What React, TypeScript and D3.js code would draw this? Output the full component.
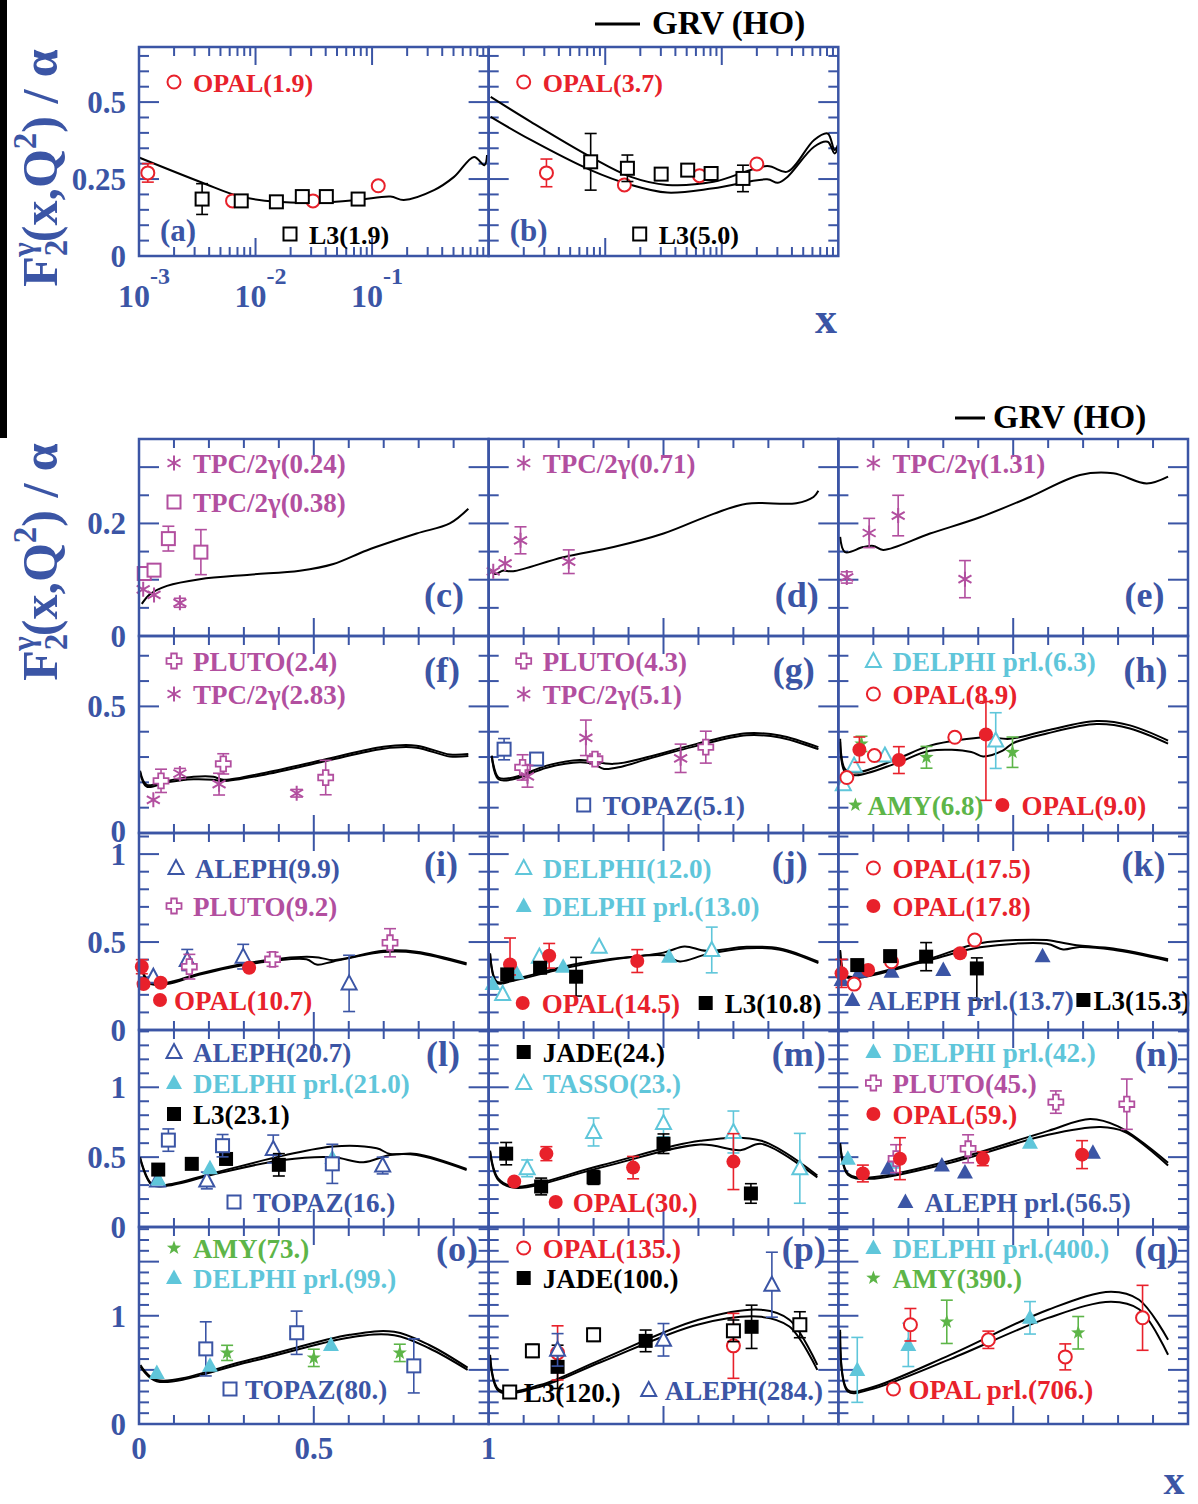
import React from "react";
import * as d3 from "d3";

const BLUE = "#3b55a5";
const RED = "#e8212b";
const MAG = "#b24f9f";
const CYAN = "#5fc6da";
const GREEN = "#5db548";
const BLACK = "#000000";
const FONT = "'Liberation Serif','Times New Roman',serif";

// ---------- data: [x, y, errUp?, errDown?] ----------
const a_OPAL = [[0.00119, 0.27, 0.03], [0.00635, 0.179], [0.0311, 0.179], [0.113, 0.228]];
const a_L3 = [[0.00348, 0.185, 0.05], [0.00754, 0.179], [0.0151, 0.176], [0.0252, 0.193], [0.0405, 0.193], [0.0759, 0.185]];
const a_GRV = [[0.001, 0.32], [0.0035, 0.238], [0.0074, 0.193], [0.0153, 0.176], [0.034, 0.173], [0.076, 0.182], [0.144, 0.193], [0.187, 0.182], [0.34, 0.214], [0.505, 0.257], [0.75, 0.322], [0.92, 0.295], [0.97, 0.328]];

const b_OPAL = [[0.00313, 0.27, 0.045], [0.0146, 0.231], [0.0645, 0.261], [0.2, 0.299]];
const b_L3 = [[0.0075, 0.306, 0.092], [0.0155, 0.285, 0.043], [0.0302, 0.266], [0.051, 0.279], [0.081, 0.268], [0.152, 0.252, 0.043]];
const b_GRV1 = [[0.00104, 0.517], [0.0023, 0.436], [0.0075, 0.322], [0.0166, 0.257], [0.034, 0.231], [0.085, 0.241], [0.245, 0.292], [0.366, 0.274], [0.62, 0.377], [0.81, 0.398], [0.93, 0.344], [0.99, 0.36]];
const b_GRV2 = [[0.00104, 0.452], [0.0023, 0.377], [0.0075, 0.279], [0.0166, 0.231], [0.034, 0.206], [0.085, 0.22], [0.245, 0.249], [0.303, 0.238], [0.366, 0.257], [0.62, 0.355], [0.81, 0.371], [0.93, 0.333], [0.99, 0.35]];

const c_TPC024 = [[0.012, 0.083], [0.043, 0.073], [0.117, 0.059, 0.008]];
const c_TPC038 = [[0.015, 0.111], [0.043, 0.117], [0.084, 0.173, 0.022], [0.177, 0.149, 0.04]];
const c_GRV = [[0.008, 0.057], [0.031, 0.074], [0.08, 0.089], [0.174, 0.101], [0.317, 0.109], [0.46, 0.116], [0.556, 0.128], [0.651, 0.152], [0.794, 0.182], [0.889, 0.2], [0.942, 0.226]];

const d_TPC071 = [[0.013, 0.115], [0.047, 0.129], [0.091, 0.17, 0.024], [0.229, 0.132, 0.021]];
const d_GRV = [[0.004, 0.119], [0.018, 0.11], [0.04, 0.116], [0.07, 0.115], [0.213, 0.14], [0.357, 0.158], [0.5, 0.182], [0.643, 0.217], [0.738, 0.235], [0.88, 0.236], [0.929, 0.247], [0.943, 0.258]];

const e_TPC131 = [[0.024, 0.104, 0.01], [0.088, 0.183, 0.026], [0.171, 0.214, 0.036], [0.362, 0.101, 0.033]];
const e_GRV = [[0.005, 0.176], [0.019, 0.149], [0.071, 0.158], [0.1, 0.16], [0.128, 0.153], [0.262, 0.182], [0.405, 0.211], [0.548, 0.247], [0.691, 0.286], [0.786, 0.289], [0.882, 0.271], [0.943, 0.283]];

const f_PLUTO24 = [[0.063, 0.206, 0.046], [0.241, 0.273, 0.04], [0.534, 0.219, 0.068]];
const f_TPC283 = [[0.041, 0.131], [0.117, 0.235, 0.02], [0.229, 0.193, 0.043], [0.451, 0.157, 0.015]];
const f_GRV1 = [[0.003, 0.246], [0.022, 0.19], [0.08, 0.206], [0.156, 0.222], [0.213, 0.222], [0.241, 0.21], [0.365, 0.239], [0.537, 0.292], [0.699, 0.341], [0.794, 0.345], [0.889, 0.31], [0.942, 0.312]];
const f_GRV2 = [[0.003, 0.24], [0.022, 0.183], [0.08, 0.2], [0.156, 0.212], [0.213, 0.21], [0.241, 0.205], [0.365, 0.232], [0.537, 0.285], [0.699, 0.333], [0.794, 0.337], [0.889, 0.302], [0.942, 0.304]];

const g_TOPAZ51 = [[0.044, 0.331, 0.042], [0.137, 0.292, 0.02]];
const g_PLUTO43 = [[0.097, 0.259, 0.05], [0.304, 0.292, 0.02], [0.621, 0.339, 0.063]];
const g_TPC51 = [[0.111, 0.224, 0.043], [0.278, 0.376, 0.07], [0.549, 0.295, 0.056]];
const g_GRV1 = [[0.009, 0.306], [0.028, 0.219], [0.07, 0.219], [0.166, 0.266], [0.261, 0.288], [0.357, 0.273], [0.452, 0.299], [0.595, 0.352], [0.738, 0.394], [0.833, 0.385], [0.943, 0.339]];
const g_GRV2 = [[0.009, 0.3], [0.028, 0.212], [0.07, 0.212], [0.166, 0.258], [0.261, 0.279], [0.3, 0.272], [0.33, 0.253], [0.38, 0.262], [0.452, 0.291], [0.595, 0.344], [0.738, 0.386], [0.833, 0.377], [0.943, 0.331]];

const h_DELPHI63 = [[0.014, 0.193], [0.045, 0.266], [0.133, 0.306], [0.45, 0.365, 0.11]];
const h_OPAL89 = [[0.024, 0.219], [0.103, 0.306], [0.333, 0.378]];
const h_OPAL90 = [[0.06, 0.329, 0.05], [0.173, 0.288, 0.053], [0.422, 0.389, 0.13, 0.26]];
const h_AMY68 = [[0.066, 0.352, 0.03], [0.252, 0.299, 0.043], [0.498, 0.319, 0.06]];
const h_GRV1 = [[0.005, 0.372], [0.019, 0.252], [0.052, 0.239], [0.167, 0.292], [0.262, 0.345], [0.424, 0.378], [0.49, 0.372], [0.596, 0.405], [0.739, 0.442], [0.834, 0.425], [0.943, 0.365]];
const h_GRV2 = [[0.005, 0.36], [0.019, 0.24], [0.052, 0.228], [0.167, 0.276], [0.262, 0.325], [0.38, 0.32], [0.414, 0.302], [0.47, 0.325], [0.5, 0.355], [0.596, 0.393], [0.739, 0.43], [0.834, 0.413], [0.943, 0.353]];

const i_ALEPH99 = [[0.041, 0.303], [0.138, 0.398, 0.06], [0.298, 0.417, 0.07], [0.601, 0.265, 0.16]];
const i_PLUTO92 = [[0.144, 0.36, 0.07], [0.382, 0.402, 0.04], [0.718, 0.496, 0.08]];
const i_OPAL107 = [[0.008, 0.36, 0.04], [0.013, 0.261], [0.062, 0.269], [0.315, 0.354]];
const i_GRV1 = [[0.003, 0.398], [0.027, 0.275], [0.08, 0.269], [0.174, 0.322], [0.317, 0.383], [0.479, 0.417], [0.52, 0.41], [0.556, 0.397], [0.699, 0.45], [0.794, 0.445], [0.937, 0.379]];
const i_GRV2 = [[0.003, 0.39], [0.027, 0.268], [0.08, 0.262], [0.174, 0.315], [0.317, 0.375], [0.479, 0.402], [0.508, 0.372], [0.556, 0.39], [0.699, 0.443], [0.794, 0.438], [0.937, 0.372]];

const j_DELPHI12 = [[0.04, 0.205], [0.145, 0.417], [0.316, 0.473], [0.638, 0.455, 0.13]];
const j_DELPHI13 = [[0.011, 0.261], [0.08, 0.322], [0.213, 0.36], [0.516, 0.417]];
const j_OPAL145 = [[0.061, 0.373, 0.15, 0.06], [0.173, 0.422, 0.07], [0.425, 0.392, 0.065]];
const j_L3108 = [[0.053, 0.316], [0.147, 0.354], [0.25, 0.303, 0.11]];
const j_GRV1 = [[0.004, 0.436], [0.023, 0.275], [0.07, 0.288], [0.261, 0.379], [0.5, 0.44], [0.56, 0.475], [0.623, 0.45], [0.738, 0.473], [0.833, 0.464], [0.943, 0.388]];
const j_GRV2 = [[0.004, 0.43], [0.023, 0.268], [0.07, 0.28], [0.261, 0.37], [0.5, 0.425], [0.547, 0.39], [0.623, 0.43], [0.738, 0.465], [0.833, 0.456], [0.943, 0.38]];

const k_OPAL175 = [[0.045, 0.261], [0.152, 0.388], [0.39, 0.511]];
const k_OPAL178 = [[0.009, 0.322, 0.08], [0.085, 0.341], [0.348, 0.436]];
const k_ALEPH137 = [[0.009, 0.284], [0.06, 0.331], [0.152, 0.331], [0.3, 0.341], [0.584, 0.42]];
const k_L3153 = [[0.054, 0.369], [0.148, 0.42], [0.251, 0.417, 0.08], [0.396, 0.35, 0.06, 0.18]];
const k_GRV1 = [[0.005, 0.455], [0.019, 0.313], [0.052, 0.303], [0.262, 0.407], [0.405, 0.493], [0.596, 0.511], [0.63, 0.5], [0.69, 0.48], [0.786, 0.464], [0.943, 0.402]];
const k_GRV2 = [[0.005, 0.448], [0.019, 0.305], [0.052, 0.295], [0.262, 0.398], [0.405, 0.47], [0.596, 0.49], [0.643, 0.458], [0.69, 0.472], [0.786, 0.456], [0.943, 0.394]];

const l_ALEPH207 = [[0.053, 0.333], [0.194, 0.333, 0.06], [0.384, 0.558, 0.1], [0.697, 0.44, 0.06]];
const l_DELPHI21 = [[0.055, 0.34], [0.203, 0.421], [0.553, 0.494]];
const l_L3231 = [[0.055, 0.411], [0.151, 0.452], [0.249, 0.487], [0.4, 0.445, 0.08]];
const l_TOPAZ16 = [[0.084, 0.622, 0.08], [0.239, 0.582, 0.08], [0.553, 0.452, 0.14]];
const l_GRV1 = [[0.003, 0.499], [0.036, 0.31], [0.08, 0.303], [0.223, 0.392], [0.413, 0.511], [0.556, 0.577], [0.68, 0.563], [0.718, 0.523], [0.794, 0.523], [0.937, 0.416]];
const l_GRV2 = [[0.003, 0.49], [0.036, 0.302], [0.08, 0.295], [0.223, 0.382], [0.413, 0.48], [0.556, 0.499], [0.642, 0.463], [0.718, 0.515], [0.794, 0.515], [0.937, 0.408]];

const m_JADE24 = [[0.05, 0.525, 0.08], [0.15, 0.29, 0.06], [0.3, 0.355, 0.05], [0.5, 0.596, 0.07], [0.75, 0.24, 0.07]];
const m_TASSO23 = [[0.11, 0.42, 0.06], [0.3, 0.68, 0.1], [0.5, 0.745, 0.1], [0.7, 0.68, 0.15], [0.89, 0.42, 0.25]];
const m_OPAL30 = [[0.073, 0.326], [0.165, 0.525, 0.05], [0.413, 0.425, 0.08], [0.7, 0.468, 0.2]];
const m_GRV1 = [[0.004, 0.546], [0.027, 0.348], [0.075, 0.29], [0.32, 0.44], [0.605, 0.617], [0.78, 0.617], [0.94, 0.369]];
const m_GRV2 = [[0.004, 0.535], [0.027, 0.338], [0.075, 0.28], [0.32, 0.425], [0.605, 0.59], [0.72, 0.55], [0.78, 0.595], [0.94, 0.355]];

const n_DELPHI42 = [[0.027, 0.489], [0.156, 0.46], [0.548, 0.603]];
const n_ALEPH565 = [[0.142, 0.418], [0.296, 0.44], [0.362, 0.39], [0.728, 0.532]];
const n_PLUTO45 = [[0.165, 0.489, 0.1], [0.371, 0.56, 0.1], [0.622, 0.894, 0.08], [0.825, 0.879, 0.18]];
const n_OPAL59 = [[0.07, 0.383, 0.06], [0.176, 0.489, 0.15], [0.413, 0.489, 0.05], [0.697, 0.518, 0.1]];
const n_GRV1 = [[0.005, 0.6], [0.027, 0.383], [0.09, 0.355], [0.32, 0.475], [0.6, 0.688], [0.72, 0.773], [0.8, 0.72], [0.943, 0.46]];
const n_GRV2 = [[0.005, 0.59], [0.027, 0.373], [0.09, 0.345], [0.32, 0.46], [0.6, 0.66], [0.75, 0.715], [0.82, 0.68], [0.943, 0.44]];

const o_AMY73 = [[0.252, 0.657, 0.07], [0.5, 0.611, 0.08], [0.746, 0.657, 0.08]];
const o_DELPHI99 = [[0.051, 0.472], [0.203, 0.537], [0.549, 0.731]];
const o_TOPAZ80 = [[0.191, 0.694, 0.25], [0.451, 0.843, 0.2], [0.786, 0.537, 0.25]];
const o_GRV1 = [[0.004, 0.546], [0.05, 0.407], [0.317, 0.593], [0.603, 0.824], [0.73, 0.852], [0.83, 0.73], [0.94, 0.52]];
const o_GRV2 = [[0.004, 0.53], [0.05, 0.395], [0.317, 0.575], [0.603, 0.8], [0.73, 0.82], [0.83, 0.7], [0.94, 0.5]];

const p_OPAL135 = [[0.197, 0.657, 0.25], [0.7, 0.722, 0.3]];
const p_JADE100 = [[0.197, 0.528, 0.2], [0.449, 0.768, 0.1], [0.752, 0.898, 0.2]];
const p_L3120 = [[0.125, 0.676, 0.06], [0.3, 0.824, 0.06], [0.7, 0.861, 0.1], [0.89, 0.917, 0.12]];
const p_ALEPH284 = [[0.197, 0.685, 0.15], [0.5, 0.778, 0.15], [0.81, 1.287, 0.3]];
const p_GRV1 = [[0.004, 0.64], [0.03, 0.315], [0.147, 0.36], [0.32, 0.593], [0.6, 0.963], [0.78, 1.056], [0.86, 0.963], [0.94, 0.546]];
const p_GRV2 = [[0.004, 0.62], [0.03, 0.3], [0.147, 0.345], [0.32, 0.57], [0.6, 0.92], [0.78, 0.99], [0.86, 0.9], [0.94, 0.5]];

const q_DELPHI400 = [[0.054, 0.5, 0.3], [0.2, 0.731, 0.2], [0.548, 0.981, 0.15]];
const q_AMY390 = [[0.31, 0.944, 0.2], [0.686, 0.843, 0.15]];
const q_OPAL706 = [[0.206, 0.917, 0.15], [0.429, 0.778, 0.08], [0.649, 0.62, 0.12], [0.87, 0.981, 0.3]];
const q_GRV1 = [[0.005, 0.87], [0.027, 0.315], [0.09, 0.333], [0.32, 0.639], [0.6, 1.056], [0.78, 1.222], [0.86, 1.148], [0.943, 0.778]];
const q_GRV2 = [[0.005, 0.85], [0.027, 0.3], [0.09, 0.318], [0.32, 0.6], [0.6, 0.98], [0.78, 1.13], [0.86, 1.06], [0.943, 0.64]];

// tick labels
const topYTickLabels = [0, 0.25, 0.5];
const topXDecades = [-3, -2, -1];
const rowYTickLabels = [[0, 0.2], [0, 0.5], [0, 0.5, 1], [0, 0.5, 1], [0, 1]];
const bottomXTickLabels = [0, 0.5, 1];

// ---------- layout ----------
const COLX = [139, 488.7, 838.4];
const PW = 349.6;
const TOP_Y0 = 47, TOP_Y1 = 256, TOP_YMAX = 0.679;
const ROWY = [439, 636, 833, 1030, 1227, 1424];
const ROW_YMAX = [0.35, 0.778, 1.12, 1.41, 1.82];
const ROW_MINOR = [0.05, 0.1, 0.1, 0.1, 0.1];
const ROW_MAJOR = [0.1, 0.5, 0.5, 0.5, 0.5];

type Ser = { d: number[][]; m: string; c: string };
type Leg = { m: string; c: string; t: string; dx: number; dy: number; tx?: number };
type Panel = { col: number; row: number; log?: boolean; lab: string; ser: Ser[]; cur: number[][][]; leg: Leg[] };

const L1 = 24, L2 = 63;
const panels: Panel[] = [
  { col: 0, row: -1, log: true, lab: "(a)", ser: [{ d: a_OPAL, m: "oc", c: RED }, { d: a_L3, m: "os", c: BLACK }], cur: [a_GRV],
    leg: [{ m: "oc", c: RED, t: "OPAL(1.9)", dx: 35, dy: 35 }, { m: "os", c: BLACK, t: "L3(1.9)", dx: 151, dy: 187 }] },
  { col: 1, row: -1, log: true, lab: "(b)", ser: [{ d: b_OPAL, m: "oc", c: RED }, { d: b_L3, m: "os", c: BLACK }], cur: [b_GRV1, b_GRV2],
    leg: [{ m: "oc", c: RED, t: "OPAL(3.7)", dx: 35, dy: 35 }, { m: "os", c: BLACK, t: "L3(5.0)", dx: 151, dy: 187 }] },
  { col: 0, row: 0, lab: "(c)", ser: [{ d: c_TPC024, m: "ast", c: MAG }, { d: c_TPC038, m: "os", c: MAG }], cur: [c_GRV],
    leg: [{ m: "ast", c: MAG, t: "TPC/2γ(0.24)", dx: 35, dy: L1 }, { m: "os", c: MAG, t: "TPC/2γ(0.38)", dx: 35, dy: L2 }] },
  { col: 1, row: 0, lab: "(d)", ser: [{ d: d_TPC071, m: "ast", c: MAG }], cur: [d_GRV],
    leg: [{ m: "ast", c: MAG, t: "TPC/2γ(0.71)", dx: 35, dy: L1 }] },
  { col: 2, row: 0, lab: "(e)", ser: [{ d: e_TPC131, m: "ast", c: MAG }], cur: [e_GRV],
    leg: [{ m: "ast", c: MAG, t: "TPC/2γ(1.31)", dx: 35, dy: L1 }] },
  { col: 0, row: 1, lab: "(f)", ser: [{ d: f_PLUTO24, m: "ocr", c: MAG }, { d: f_TPC283, m: "ast", c: MAG }], cur: [f_GRV1, f_GRV2],
    leg: [{ m: "ocr", c: MAG, t: "PLUTO(2.4)", dx: 35, dy: 25 }, { m: "ast", c: MAG, t: "TPC/2γ(2.83)", dx: 35, dy: 58 }] },
  { col: 1, row: 1, lab: "(g)", ser: [{ d: g_TOPAZ51, m: "os", c: BLUE }, { d: g_PLUTO43, m: "ocr", c: MAG }, { d: g_TPC51, m: "ast", c: MAG }], cur: [g_GRV1, g_GRV2],
    leg: [{ m: "ocr", c: MAG, t: "PLUTO(4.3)", dx: 35, dy: 25 }, { m: "ast", c: MAG, t: "TPC/2γ(5.1)", dx: 35, dy: 58 }, { m: "os", c: BLUE, t: "TOPAZ(5.1)", dx: 95, dy: 169 }] },
  { col: 2, row: 1, lab: "(h)", ser: [{ d: h_DELPHI63, m: "ot", c: CYAN }, { d: h_AMY68, m: "star", c: GREEN }, { d: h_OPAL89, m: "oc", c: RED }, { d: h_OPAL90, m: "fc", c: RED }], cur: [h_GRV1, h_GRV2],
    leg: [{ m: "ot", c: CYAN, t: "DELPHI prl.(6.3)", dx: 35, dy: 25 }, { m: "oc", c: RED, t: "OPAL(8.9)", dx: 35, dy: 58 },
      { m: "star", c: GREEN, t: "AMY(6.8)", dx: 17, dy: 169, tx: 12 }, { m: "fc", c: RED, t: "OPAL(9.0)", dx: 164, dy: 169 }] },
  { col: 0, row: 2, lab: "(i)", ser: [{ d: i_ALEPH99, m: "ot", c: BLUE }, { d: i_PLUTO92, m: "ocr", c: MAG }, { d: i_OPAL107, m: "fc", c: RED }], cur: [i_GRV1, i_GRV2],
    leg: [{ m: "ot", c: BLUE, t: "ALEPH(9.9)", dx: 37, dy: 35 }, { m: "ocr", c: MAG, t: "PLUTO(9.2)", dx: 35, dy: 73 }, { m: "fc", c: RED, t: "OPAL(10.7)", dx: 21, dy: 167, tx: 14 }] },
  { col: 1, row: 2, lab: "(j)", ser: [{ d: j_DELPHI12, m: "ot", c: CYAN }, { d: j_DELPHI13, m: "ft", c: CYAN }, { d: j_OPAL145, m: "fc", c: RED }, { d: j_L3108, m: "fs", c: BLACK }], cur: [j_GRV1, j_GRV2],
    leg: [{ m: "ot", c: CYAN, t: "DELPHI(12.0)", dx: 35, dy: 35 }, { m: "ft", c: CYAN, t: "DELPHI prl.(13.0)", dx: 35, dy: 73 },
      { m: "fc", c: RED, t: "OPAL(14.5)", dx: 34, dy: 170 }, { m: "fs", c: BLACK, t: "L3(10.8)", dx: 217, dy: 170 }] },
  { col: 2, row: 2, lab: "(k)", ser: [{ d: k_ALEPH137, m: "ft", c: BLUE }, { d: k_OPAL175, m: "oc", c: RED }, { d: k_OPAL178, m: "fc", c: RED }, { d: k_L3153, m: "fs", c: BLACK }], cur: [k_GRV1, k_GRV2],
    leg: [{ m: "oc", c: RED, t: "OPAL(17.5)", dx: 35, dy: 35 }, { m: "fc", c: RED, t: "OPAL(17.8)", dx: 35, dy: 73 },
      { m: "ft", c: BLUE, t: "ALEPH prl.(13.7)", dx: 14, dy: 167, tx: 15 }, { m: "fs", c: BLACK, t: "L3(15.3)", dx: 245, dy: 167, tx: 10 }] },
  { col: 0, row: 3, lab: "(l)", ser: [{ d: l_ALEPH207, m: "ot", c: BLUE }, { d: l_DELPHI21, m: "ft", c: CYAN }, { d: l_L3231, m: "fs", c: BLACK }, { d: l_TOPAZ16, m: "os", c: BLUE }], cur: [l_GRV1, l_GRV2],
    leg: [{ m: "ot", c: BLUE, t: "ALEPH(20.7)", dx: 35, dy: 22 }, { m: "ft", c: CYAN, t: "DELPHI prl.(21.0)", dx: 35, dy: 53 }, { m: "fs", c: BLACK, t: "L3(23.1)", dx: 35, dy: 84 },
      { m: "os", c: BLUE, t: "TOPAZ(16.)", dx: 95, dy: 172 }] },
  { col: 1, row: 3, lab: "(m)", ser: [{ d: m_TASSO23, m: "ot", c: CYAN }, { d: m_JADE24, m: "fs", c: BLACK }, { d: m_OPAL30, m: "fc", c: RED }], cur: [m_GRV1, m_GRV2],
    leg: [{ m: "fs", c: BLACK, t: "JADE(24.)", dx: 35, dy: 22 }, { m: "ot", c: CYAN, t: "TASSO(23.)", dx: 35, dy: 53 }, { m: "fc", c: RED, t: "OPAL(30.)", dx: 67, dy: 172, tx: 17 }] },
  { col: 2, row: 3, lab: "(n)", ser: [{ d: n_DELPHI42, m: "ft", c: CYAN }, { d: n_ALEPH565, m: "ft", c: BLUE }, { d: n_PLUTO45, m: "ocr", c: MAG }, { d: n_OPAL59, m: "fc", c: RED }], cur: [n_GRV1, n_GRV2],
    leg: [{ m: "ft", c: CYAN, t: "DELPHI prl.(42.)", dx: 35, dy: 22 }, { m: "ocr", c: MAG, t: "PLUTO(45.)", dx: 35, dy: 53 }, { m: "fc", c: RED, t: "OPAL(59.)", dx: 35, dy: 84 },
      { m: "ft", c: BLUE, t: "ALEPH prl.(56.5)", dx: 67, dy: 172 }] },
  { col: 0, row: 4, lab: "(o)", ser: [{ d: o_TOPAZ80, m: "os", c: BLUE }, { d: o_DELPHI99, m: "ft", c: CYAN }, { d: o_AMY73, m: "star", c: GREEN }], cur: [o_GRV1, o_GRV2],
    leg: [{ m: "star", c: GREEN, t: "AMY(73.)", dx: 35, dy: 21 }, { m: "ft", c: CYAN, t: "DELPHI prl.(99.)", dx: 35, dy: 51 }, { m: "os", c: BLUE, t: "TOPAZ(80.)", dx: 91, dy: 162, tx: 15 }] },
  { col: 1, row: 4, lab: "(p)", ser: [{ d: p_OPAL135, m: "oc", c: RED }, { d: p_JADE100, m: "fs", c: BLACK }, { d: p_L3120, m: "os", c: BLACK }, { d: p_ALEPH284, m: "ot", c: BLUE }], cur: [p_GRV1, p_GRV2],
    leg: [{ m: "oc", c: RED, t: "OPAL(135.)", dx: 35, dy: 21 }, { m: "fs", c: BLACK, t: "JADE(100.)", dx: 35, dy: 51 },
      { m: "os", c: BLACK, t: "L3(120.)", dx: 21, dy: 165, tx: 14 }, { m: "ot", c: BLUE, t: "ALEPH(284.)", dx: 160, dy: 163, tx: 16 }] },
  { col: 2, row: 4, lab: "(q)", ser: [{ d: q_DELPHI400, m: "ft", c: CYAN }, { d: q_AMY390, m: "star", c: GREEN }, { d: q_OPAL706, m: "oc", c: RED }], cur: [q_GRV1, q_GRV2],
    leg: [{ m: "ft", c: CYAN, t: "DELPHI prl.(400.)", dx: 35, dy: 21 }, { m: "star", c: GREEN, t: "AMY(390.)", dx: 35, dy: 51 }, { m: "oc", c: RED, t: "OPAL prl.(706.)", dx: 55, dy: 162, tx: 15 }] },
];

const LAB_POS: Record<string, [number, number]> = {
  "(c)": [325, 168], "(d)": [330, 168], "(e)": [326, 168],
  "(f)": [321, 46], "(g)": [326, 46], "(h)": [329, 46],
  "(i)": [319, 43], "(j)": [319, 43], "(k)": [327, 43],
  "(l)": [321, 36], "(m)": [337, 36], "(n)": [340, 36],
  "(o)": [339, 34], "(p)": [337, 34], "(q)": [340, 34],
};

function Marker({ m, x, y, c }: { m: string; x: number; y: number; c: string }) {
  const sw = 2;
  switch (m) {
    case "oc": return <circle cx={x} cy={y} r={6.5} fill="white" stroke={c} strokeWidth={sw} />;
    case "fc": return <circle cx={x} cy={y} r={7} fill={c} />;
    case "os": return <rect x={x - 6.5} y={y - 6.5} width={13} height={13} fill="white" stroke={c} strokeWidth={sw} />;
    case "fs": return <rect x={x - 7} y={y - 7} width={14} height={14} fill={c} />;
    case "ot": return <path d={`M${x},${y - 8}L${x + 7.5},${y + 6}L${x - 7.5},${y + 6}Z`} fill="white" stroke={c} strokeWidth={sw} />;
    case "ft": return <path d={`M${x},${y - 8.5}L${x + 8},${y + 6}L${x - 8},${y + 6}Z`} fill={c} />;
    case "ast": {
      const r = 7.5, a = r * 0.866, b = r * 0.5;
      return <path d={`M${x},${y - r}L${x},${y + r}M${x - a},${y - b}L${x + a},${y + b}M${x - a},${y + b}L${x + a},${y - b}`} stroke={c} strokeWidth={2} fill="none" />;
    }
    case "ocr": {
      const h = 7.5, w = 2.8;
      return <path d={`M${x - w},${y - h}H${x + w}V${y - w}H${x + h}V${y + w}H${x + w}V${y + h}H${x - w}V${y + w}H${x - h}V${y - w}H${x - w}Z`} fill="white" stroke={c} strokeWidth={1.8} />;
    }
    case "star": {
      const pts: string[] = [];
      for (let k = 0; k < 10; k++) {
        const rr = k % 2 === 0 ? 7.5 : 3;
        const ang = -Math.PI / 2 + (k * Math.PI) / 5;
        pts.push(`${x + rr * Math.cos(ang)},${y + rr * Math.sin(ang)}`);
      }
      return <polygon points={pts.join(" ")} fill={c} />;
    }
  }
  return null;
}

function PanelView({ p }: { p: Panel }) {
  const x0 = COLX[p.col];
  const isTop = p.row < 0;
  const y0 = isTop ? TOP_Y0 : ROWY[p.row];
  const y1 = isTop ? TOP_Y1 : ROWY[p.row + 1];
  const ymax = isTop ? TOP_YMAX : ROW_YMAX[p.row];
  const xs: any = p.log ? d3.scaleLog().domain([1e-3, 1]).range([x0, x0 + PW]) : d3.scaleLinear().domain([0, 1]).range([x0, x0 + PW]);
  const ys = d3.scaleLinear().domain([0, ymax]).range([y1, y0]);
  const line = d3.line<number[]>().x((d) => xs(d[0])).y((d) => ys(d[1])).curve(d3.curveCatmullRom.alpha(0.5));

  const tk: JSX.Element[] = [];
  const minor = isTop ? 0.05 : ROW_MINOR[p.row];
  const major = isTop ? 0.25 : ROW_MAJOR[p.row];
  const nY = Math.floor(ymax / minor + 1e-6);
  for (let k = 1; k <= nY; k++) {
    const v = k * minor;
    const isMaj = Math.abs(v / major - Math.round(v / major)) < 1e-6;
    const L = isMaj ? 20 : 10;
    const yy = ys(v);
    tk.push(<line key={"yl" + k} x1={x0} x2={x0 + L} y1={yy} y2={yy} />);
    tk.push(<line key={"yr" + k} x1={x0 + PW} x2={x0 + PW - L} y1={yy} y2={yy} />);
  }
  if (p.log) {
    for (let dec = -3; dec < 0; dec++) {
      for (let m = 1; m <= 9; m++) {
        const v = m * Math.pow(10, dec);
        if (m === 1 && dec === -3) continue;
        const L = m === 1 ? 18 : 9;
        const xx = xs(v);
        tk.push(<line key={"xb" + dec + m} x1={xx} x2={xx} y1={y1} y2={y1 - L} />);
        tk.push(<line key={"xt" + dec + m} x1={xx} x2={xx} y1={y0} y2={y0 + L} />);
      }
    }
  } else {
    for (let k = 1; k < 10; k++) {
      const L = k === 5 ? 18 : 9;
      const xx = xs(k / 10);
      tk.push(<line key={"xb" + k} x1={xx} x2={xx} y1={y1} y2={y1 - L} />);
      tk.push(<line key={"xt" + k} x1={xx} x2={xx} y1={y0} y2={y0 + L} />);
    }
  }

  const labPos = isTop ? null : LAB_POS[p.lab];
  const legFs = isTop ? 26 : 27;
  return (
    <g>
      <g stroke={BLUE} strokeWidth={2}>{tk}</g>
      {p.cur.map((c, i) => (
        <path key={"c" + i} d={line(c) || ""} fill="none" stroke={BLACK} strokeWidth={2} />
      ))}
      {p.ser.map((s, si) => (
        <g key={"s" + si}>
          {s.d.map((pt, k) => {
            const cx = xs(pt[0]);
            const cy = ys(pt[1]);
            const eu = pt[2];
            const ed = pt[3] !== undefined ? pt[3] : pt[2];
            return (
              <g key={k}>
                {eu !== undefined && (
                  <g stroke={s.c} strokeWidth={1.6}>
                    <line x1={cx} x2={cx} y1={ys(pt[1] + eu)} y2={ys(Math.max(0, pt[1] - (ed as number)))} />
                    <line x1={cx - 6} x2={cx + 6} y1={ys(pt[1] + eu)} y2={ys(pt[1] + eu)} />
                    <line x1={cx - 6} x2={cx + 6} y1={ys(pt[1] - (ed as number))} y2={ys(pt[1] - (ed as number))} />
                  </g>
                )}
                <Marker m={s.m} x={cx} y={cy} c={s.c} />
              </g>
            );
          })}
        </g>
      ))}
      {p.leg.map((l, i) => (
        <g key={"l" + i}>
          <Marker m={l.m} x={x0 + l.dx} y={y0 + l.dy} c={l.c} />
          <text x={x0 + l.dx + (l.tx ?? 19)} y={y0 + l.dy + 10} fill={l.c} fontSize={legFs} fontWeight="bold" fontFamily={FONT}>{l.t}</text>
        </g>
      ))}
      {isTop ? (
        <text x={x0 + 21} y={y1 - 15} fill={BLUE} fontSize={31} fontWeight="bold" fontFamily={FONT}>{p.lab}</text>
      ) : (
        <text x={x0 + labPos![0]} y={y0 + labPos![1]} textAnchor="end" fill={BLUE} fontSize={36} fontWeight="bold" fontFamily={FONT}>{p.lab}</text>
      )}
      <rect x={x0} y={y0} width={PW} height={y1 - y0} fill="none" stroke={BLUE} strokeWidth={2.5} />
    </g>
  );
}

function YTitle({ cx, cy }: { cx: number; cy: number }) {
  return (
    <text transform={`translate(${cx},${cy}) rotate(-90)`} textAnchor="middle" fill={BLUE} fontWeight="bold" fontFamily={FONT} fontSize={50}>
      <tspan>F</tspan>
      <tspan fontSize={33} dy={10}>2</tspan>
      <tspan fontSize={31} dx={-17} dy={-33}>γ</tspan>
      <tspan dy={23}>(x,Q</tspan>
      <tspan fontSize={33} dy={-21}>2</tspan>
      <tspan dy={21}>) / α</tspan>
    </text>
  );
}

export default function App() {
  const tsTop = d3.scaleLinear().domain([0, TOP_YMAX]).range([TOP_Y1, TOP_Y0]);
  const xsTop = d3.scaleLog().domain([1e-3, 1]).range([COLX[0], COLX[0] + PW]);
  const xsBot = d3.scaleLinear().domain([0, 1]).range([COLX[0], COLX[0] + PW]);
  return (
    <div style={{ position: "absolute", left: 0, top: 0 }}>
      <svg width={1198} height={1504} style={{ display: "block", background: "white" }}>
        <rect x={0} y={0} width={7} height={438} fill="#000" />
        {panels.map((p, i) => <PanelView key={i} p={p} />)}
        {topYTickLabels.map((v) => (
          <text key={"ty" + v} x={126} y={tsTop(v) + 11} textAnchor="end" fill={BLUE} fontSize={31} fontWeight="bold" fontFamily={FONT}>{v}</text>
        ))}
        {topXDecades.map((e) => (
          <text key={"tx" + e} x={xsTop(Math.pow(10, e)) + 5} y={307} textAnchor="middle" fill={BLUE} fontWeight="bold" fontFamily={FONT} fontSize={32}>
            10<tspan fontSize={24} dy={-23}>{e}</tspan>
          </text>
        ))}
        {rowYTickLabels.map((labs, r) => {
          const ys = d3.scaleLinear().domain([0, ROW_YMAX[r]]).range([ROWY[r + 1], ROWY[r]]);
          return labs.map((v) => (
            <text key={"ry" + r + v} x={126} y={ys(v) + (r === 1 && v === 0 ? 9 : 11)} textAnchor="end" fill={BLUE} fontSize={31} fontWeight="bold" fontFamily={FONT}>{v}</text>
          ));
        })}
        {bottomXTickLabels.map((v) => (
          <text key={"bx" + v} x={xsBot(v)} y={1459} textAnchor="middle" fill={BLUE} fontSize={31} fontWeight="bold" fontFamily={FONT}>{v}</text>
        ))}
        <text x={826} y={333} textAnchor="middle" fill={BLUE} fontSize={44} fontWeight="bold" fontFamily={FONT}>x</text>
        <text x={1174} y={1494} textAnchor="middle" fill={BLUE} fontSize={42} fontWeight="bold" fontFamily={FONT}>x</text>
        <YTitle cx={57} cy={168} />
        <YTitle cx={57} cy={562} />
        <line x1={595} x2={640} y1={24} y2={24} stroke="#000" strokeWidth={3} />
        <text x={652} y={34} fontSize={33} fontWeight="bold" fontFamily={FONT} fill="#000">GRV (HO)</text>
        <line x1={955} x2={985} y1={418} y2={418} stroke="#000" strokeWidth={3} />
        <text x={993} y={428} fontSize={33} fontWeight="bold" fontFamily={FONT} fill="#000">GRV (HO)</text>
      </svg>
    </div>
  );
}
